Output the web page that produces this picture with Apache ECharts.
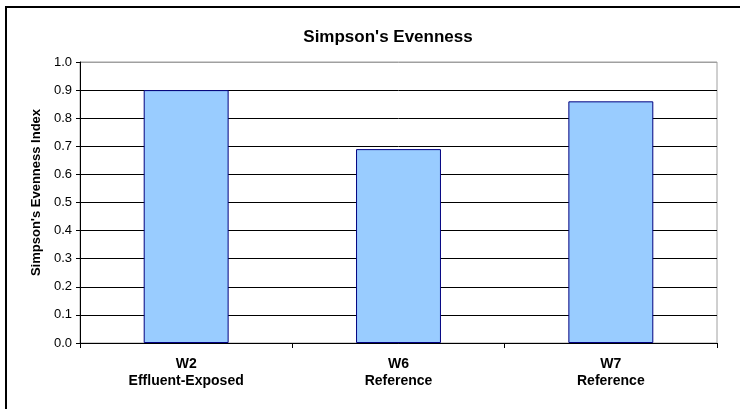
<!DOCTYPE html>
<html>
<head>
<meta charset="utf-8">
<script src="https://cdn.jsdelivr.net/npm/echarts@6/dist/echarts.min.js"></script>
<style>
  html, body { margin: 0; padding: 0; background: #fff; }
  #chart { width: 740px; height: 409px; }
</style>
</head>
<body>
<div id="chart"></div>
<script>
// Sampling sites and their Simpson's evenness values
const sites = ['W2\nEffluent-Exposed', 'W6\nReference', 'W7\nReference'];
const evenness = [0.90, 0.69, 0.86];
const yTicks = [0.0, 0.1, 0.2, 0.3, 0.4, 0.5, 0.6, 0.7, 0.8, 0.9, 1.0];

const FONT = '"Liberation Sans", Arial, sans-serif';

// gridlines are black except the top one, which sits on the grey plot frame
const splitColors = yTicks.map((v, i) => (i === yTicks.length - 1 ? '#a0a0a0' : '#000'));

const chart = echarts.init(document.getElementById('chart'), null, { renderer: 'canvas' });
chart.setOption({
  backgroundColor: '#fff',
  animation: false,
  title: {
    text: "Simpson's Evenness",
    left: 383,
    top: 24,
    textAlign: 'center',
    textStyle: { fontFamily: FONT, fontSize: 17, fontWeight: 'bold', color: '#000' }
  },
  graphic: [{
    type: 'rect',
    shape: { x: 6, y: 7, width: 760, height: 430 },
    style: { fill: 'none', stroke: '#000', lineWidth: 2 },
    silent: true
  }],
  grid: {
    left: 80, right: 23, top: 62, bottom: 66,
    show: true, borderColor: '#a0a0a0', borderWidth: 1, backgroundColor: '#fff'
  },
  xAxis: {
    type: 'category',
    data: sites,
    axisLine: { lineStyle: { color: '#000', width: 1 } },
    axisTick: { show: true, alignWithLabel: false, length: 5, lineStyle: { color: '#000' } },
    axisLabel: {
      fontFamily: FONT, fontSize: 14, fontWeight: 'bold', color: '#000',
      lineHeight: 17, margin: 13
    },
    splitLine: { show: false }
  },
  yAxis: {
    type: 'value',
    min: 0, max: 1, interval: 0.1,
    name: "Simpson's Evenness Index",
    nameLocation: 'middle',
    nameGap: 36,
    nameTextStyle: {
      fontFamily: FONT, fontSize: 13, fontWeight: 'bold', color: '#000',
      padding: [0, 0, 0, 20]
    },
    axisLine: { show: true, lineStyle: { color: '#000', width: 1 } },
    axisTick: { show: true, length: 4, lineStyle: { color: '#000' } },
    axisLabel: {
      fontFamily: FONT, fontSize: 13, color: '#000', margin: 8,
      formatter: v => v.toFixed(1)
    },
    splitLine: { show: true, lineStyle: { color: splitColors, width: 1 } }
  },
  series: [{
    type: 'bar',
    data: evenness,
    barWidth: '40%',
    itemStyle: { color: '#99ccff', borderColor: '#000080', borderWidth: 1 }
  }]
});
</script>
</body>
</html>
